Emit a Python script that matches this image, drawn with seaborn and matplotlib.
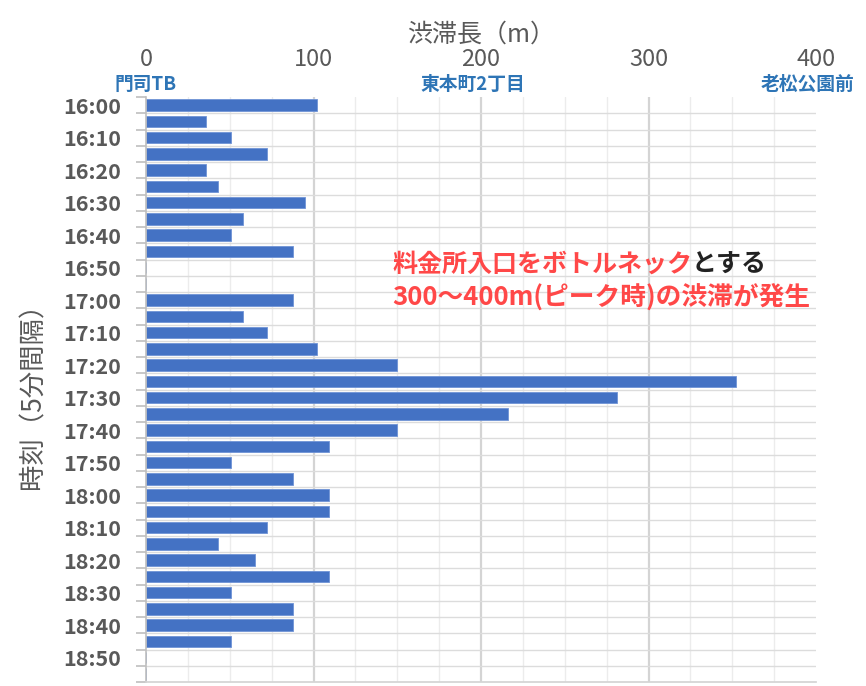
import numpy as np
import pandas as pd
import matplotlib.pyplot as plt
import seaborn as sns

# 5-minute slots and queue length (m)
times = ["16:00", "16:05", "16:10", "16:15", "16:20", "16:25", "16:30", "16:35",
         "16:40", "16:45", "16:50", "16:55", "17:00", "17:05", "17:10", "17:15",
         "17:20", "17:25", "17:30", "17:35", "17:40", "17:45", "17:50", "17:55",
         "18:00", "18:05", "18:10", "18:15", "18:20", "18:25", "18:30", "18:35",
         "18:40", "18:45", "18:50", "18:55"]
lengths = [102, 36, 51, 72, 36, 43, 95, 58, 51, 88, 0, 0,
           88, 58, 72, 102, 150, 352, 281, 216, 150, 109, 51, 88,
           109, 109, 72, 43, 65, 109, 51, 88, 88, 51, 0, 0]

x_ticks = [0, 100, 200, 300, 400]
place_pos = [0, 200, 400]
place_names = ["門司TB", "東本町2丁目", "老松公園前"]

df = pd.DataFrame({"time": times, "length": lengths})

sns.set_theme(style="white")
plt.rcParams["font.family"] = ["Noto Sans CJK JP", "DejaVu Sans"]

grey = "#595959"
fig = plt.figure(figsize=(8.66, 6.86), dpi=100)
ax = fig.add_axes([146 / 866, 4 / 686, 670 / 866, 585 / 686])

sns.barplot(data=df, x="length", y="time", orient="h", color="#4472C4",
            saturation=1, width=0.72, edgecolor="#6f93d6", linewidth=0.6, ax=ax)

ax.set_xlim(0, 400)
ax.set_ylim(len(times) - 0.5, -0.5)

# grid
for v in np.arange(25, 400, 25):
    major = v % 100 == 0
    ax.axvline(v, color="#d4d4d4" if major else "#ececec",
               lw=1.6 if major else 1.0, zorder=0)
for b in np.arange(0.5, len(times) - 0.5, 1):
    ax.axhline(b, color="#dcdcdc", lw=1.0, zorder=0)

for s in ["right", "top"]:
    ax.spines[s].set_visible(False)
ax.spines["left"].set_color("#bfbfbf")
ax.spines["bottom"].set_color("#d4d4d4")
ax.spines["left"].set_linewidth(1.2)

# x axis on top
ax.xaxis.tick_top()
ax.xaxis.set_label_position("top")
ax.set_xticks(x_ticks)
ax.set_xticklabels([str(t) for t in x_ticks], fontsize=17, color=grey)
ax.tick_params(axis="x", length=0, pad=19)
ax.set_xlabel("渋滞長（m）", fontsize=18, color=grey, labelpad=4)

# y ticks: labels every 10 min, marks at slot boundaries
ax.set_yticks(range(0, len(times), 2))
ax.set_yticklabels(times[::2], fontsize=15.5, fontweight="bold", color=grey)
ax.set_yticks(np.arange(-0.5, len(times), 1), minor=True)
ax.tick_params(axis="y", which="major", length=0, pad=18)
ax.tick_params(axis="y", which="minor", length=7, color="#bfbfbf", width=1.2, left=True)
ax.set_ylabel("時刻（5分間隔）", fontsize=19, color=grey, labelpad=12)

# place names under the scale
name_dx = [0, -6, -6]
for p, name, dx in zip(place_pos, place_names, name_dx):
    ax.annotate(name, xy=(p, 1.0), xycoords=("data", "axes fraction"),
                xytext=(dx, 2), textcoords="offset points", ha="center", va="bottom",
                fontsize=13.5, fontweight="bold", color="#2e75b6")

red = "#ff4848"
t1 = fig.text(392 / 866, 1 - 265 / 686, "料金所入口をボトルネック", fontsize=18,
              fontweight="bold", color=red, va="center", ha="left")
ax.annotate("とする", xy=(1, 0.5), xycoords=t1, va="center", ha="left",
            fontsize=18, fontweight="bold", color="#222222")
fig.text(392 / 866, 1 - 298 / 686, "300～400m(ピーク時)の渋滞が発生", fontsize=18.5,
         fontweight="bold", color=red, va="center", ha="left")

fig.savefig("out.png", dpi=100)
